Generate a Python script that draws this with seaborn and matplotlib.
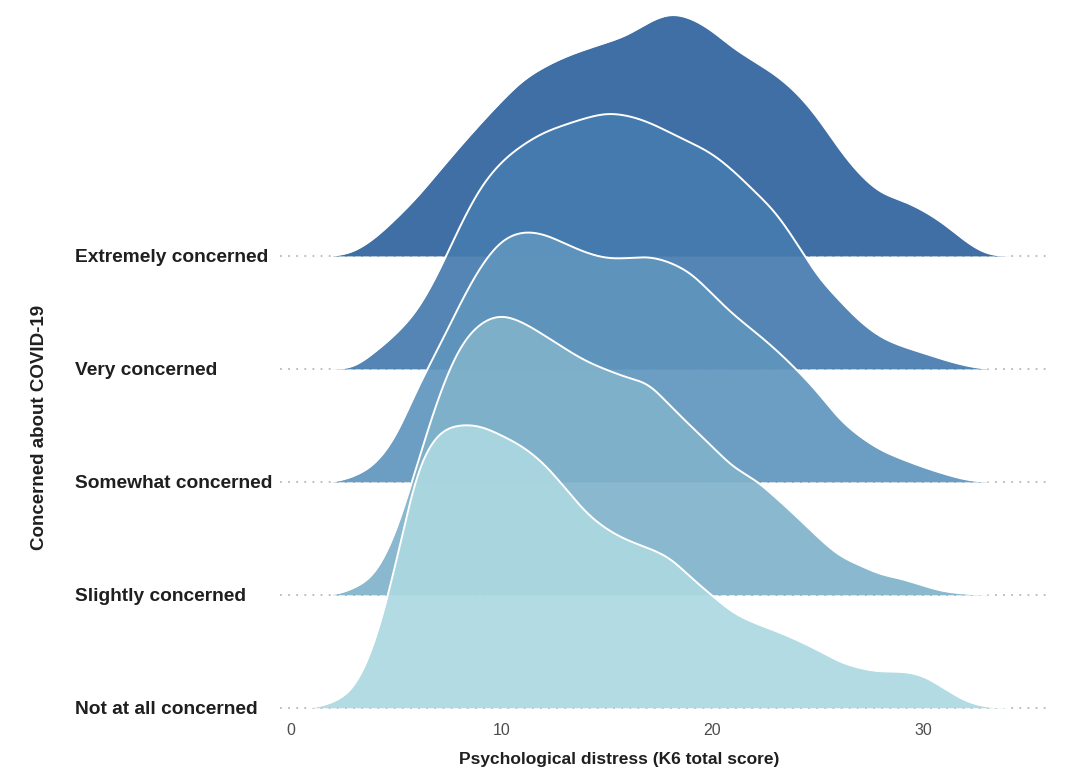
import numpy as np
import pandas as pd
import matplotlib
matplotlib.use("Agg")
import matplotlib.pyplot as plt
import seaborn as sns

# ---- data (density heights, in ridge-spacing units) ----
categories = ["Not at all concerned", "Slightly concerned", "Somewhat concerned",
              "Very concerned", "Extremely concerned"]
scores = list(range(1, 35))

not_at_all = [0, 0.05, 0.18, 0.58, 1.28, 2.08, 2.42, 2.50, 2.49, 2.41, 2.31, 2.16,
              1.95, 1.73, 1.58, 1.48, 1.41, 1.32, 1.15, 0.99, 0.84, 0.75, 0.68, 0.60,
              0.51, 0.41, 0.35, 0.32, 0.32, 0.28, 0.17, 0.06, 0.01, 0]
slightly = [0, 0, 0.06, 0.19, 0.56, 1.15, 1.74, 2.18, 2.40, 2.47, 2.41, 2.30,
            2.18, 2.07, 1.99, 1.92, 1.86, 1.67, 1.49, 1.31, 1.13, 1.02, 0.86, 0.69,
            0.51, 0.35, 0.26, 0.18, 0.14, 0.08, 0.03, 0.01, 0, 0]
somewhat = [0, 0, 0.05, 0.16, 0.41, 0.82, 1.18, 1.56, 1.90, 2.13, 2.21, 2.19,
            2.11, 2.03, 1.98, 1.98, 1.99, 1.94, 1.84, 1.66, 1.48, 1.33, 1.17, 0.99,
            0.79, 0.56, 0.40, 0.28, 0.20, 0.13, 0.07, 0.02, 0, 0]
very = [0, 0, 0.02, 0.15, 0.31, 0.52, 0.85, 1.25, 1.60, 1.83, 1.98, 2.09,
        2.16, 2.22, 2.26, 2.24, 2.18, 2.09, 2.00, 1.90, 1.75, 1.57, 1.38, 1.11,
        0.82, 0.61, 0.42, 0.28, 0.20, 0.14, 0.08, 0.03, 0, 0]
extremely = [0, 0, 0.04, 0.16, 0.33, 0.52, 0.74, 0.96, 1.17, 1.37, 1.55, 1.67,
             1.76, 1.83, 1.89, 1.96, 2.07, 2.14, 2.10, 1.99, 1.84, 1.72, 1.60, 1.44,
             1.22, 0.95, 0.72, 0.56, 0.49, 0.40, 0.28, 0.13, 0.02, 0]

series = [not_at_all, slightly, somewhat, very, extremely]
fill_colors = ["#acd8e1", "#80b2ca", "#5f95bd", "#457bae", "#2e639c"]
xticks = [0, 10, 20, 30]


def catmull_rom(x, y, n=24):
    x = np.asarray(x, float)
    y = np.asarray(y, float)
    P = np.concatenate([[y[0]], y, [y[-1]]])
    xs, ys = [], []
    t = np.linspace(0, 1, n, endpoint=False)
    for i in range(len(x) - 1):
        p0, p1, p2, p3 = P[i], P[i + 1], P[i + 2], P[i + 3]
        yy = 0.5 * (2 * p1 + (-p0 + p2) * t + (2 * p0 - 5 * p1 + 4 * p2 - p3) * t ** 2
                    + (-p0 + 3 * p1 - 3 * p2 + p3) * t ** 3)
        xs.append(x[i] + t * (x[i + 1] - x[i]))
        ys.append(yy)
    xs.append([x[-1]])
    ys.append([y[-1]])
    xs = np.concatenate(xs)
    ys = np.clip(np.concatenate(ys), 0, None)
    # light smoothing to remove interpolation kinks
    step = xs[1] - xs[0]
    sig = 0.38 / step
    half = int(3 * sig)
    k = np.exp(-0.5 * (np.arange(-half, half + 1) / sig) ** 2)
    k /= k.sum()
    ys_s = np.convolve(np.pad(ys, half), k, mode="valid")
    return xs, ys_s


sns.set_theme(style="white")
plt.rcParams['font.family'] = ['Liberation Sans', 'DejaVu Sans']

fig = plt.figure(figsize=(10.74, 7.71), dpi=100)
ax = fig.add_axes([0.2607, 0.0674, 0.717, 0.923])
ax.set_xlim(-0.5, 36)
ax.set_ylim(-0.1, 6.2)

# dotted baselines
for i in range(len(categories)):
    ax.axhline(i, color="#b8b8b8", lw=1.3, ls=(0, (1.0, 3.5)), zorder=0)

# draw ridges from top (Extremely) down to bottom (Not at all)
n = len(categories)
for k in range(n - 1, -1, -1):
    vals = np.asarray(series[k], float)
    pos = np.where(vals > 0)[0]
    a = max(pos[0] - 1, 0)
    b = min(pos[-1] + 1, len(vals) - 1)
    xs, ys = catmull_rom(np.array(scores[a:b + 1]), vals[a:b + 1])
    base = k
    z = 10 + (n - k) * 2
    ax.fill_between(xs, base, base + ys, color=fill_colors[k], alpha=0.92,
                    lw=0, zorder=z)
    df = pd.DataFrame({"score": xs, "height": base + ys})
    sns.lineplot(data=df, x="score", y="height", ax=ax, color="white", lw=1.4,
                 zorder=z + 1, sort=False, estimator=None)

ax.set_yticks(range(n))
ax.set_yticklabels(categories, fontsize=13.8, fontweight="bold", color="#1f1f1f")
for lbl in ax.get_yticklabels():
    lbl.set_horizontalalignment("left")
ax.tick_params(axis="y", length=0, pad=147.6)

ax.set_xticks(xticks)
ax.set_xticklabels([str(v) for v in xticks], fontsize=11.5, color="#4d4d4d")
ax.tick_params(axis="x", length=0, pad=2.5)

ax.set_xlabel("Psychological distress (K6 total score)", fontsize=12.5,
              fontweight="bold", color="#1f1f1f")
ax.xaxis.set_label_coords(0.44, -0.046)
ax.set_ylabel("Concerned about COVID-19", fontsize=13.5, fontweight="bold",
              color="#1f1f1f")
ax.yaxis.set_label_coords(-0.301, 0.41)

for s in ax.spines.values():
    s.set_visible(False)
ax.grid(False)

fig.savefig("out.png", dpi=100)
